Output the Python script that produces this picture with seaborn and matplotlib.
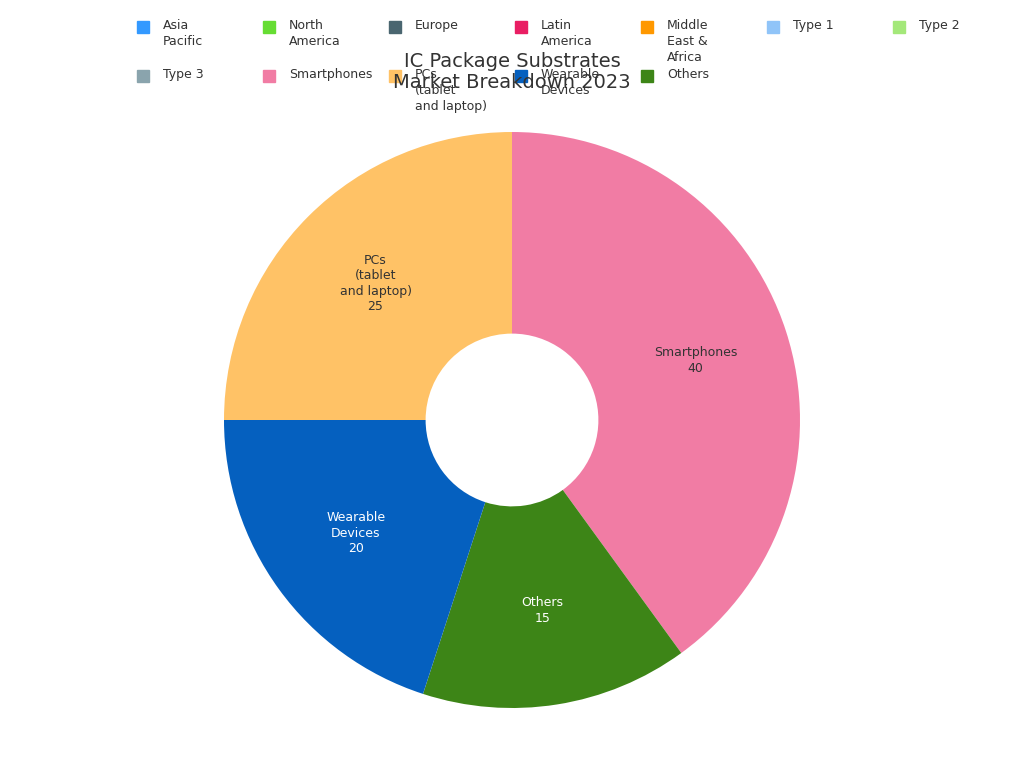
import matplotlib
matplotlib.use("Agg")
import matplotlib.pyplot as plt
from matplotlib.patches import Rectangle
import numpy as np
import seaborn as sns

sns.set_style("white")

# pie data
segments = ["Smartphones", "Others", "Wearable\nDevices", "PCs\n(tablet\nand laptop)"]
values = [40, 15, 20, 25]
seg_colors = ["#f17ca4", "#3d8517", "#0560bf", "#ffc266"]
text_colors = ["#333333", "white", "white", "#333333"]

# legend entries (row-major, 7 per row)
legend_labels = ["Asia\nPacific", "North\nAmerica", "Europe", "Latin\nAmerica",
                 "Middle\nEast &\nAfrica", "Type 1", "Type 2",
                 "Type 3", "Smartphones", "PCs\n(tablet\nand laptop)", "Wearable\nDevices", "Others"]
legend_colors = ["#3399ff", "#66dd33", "#4a6670", "#e91e63", "#ff9800", "#90c4f8", "#a4e87a",
                 "#8aa4ad", "#f17ca4", "#ffc266", "#0560bf", "#3d8517"]

W, H = 1024, 768
fig = plt.figure(figsize=(W / 100, H / 100), dpi=100)
R = 288
cx, cy = 512, 420
ax = fig.add_axes([(cx - R) / W, (H - cy - R) / H, 2 * R / W, 2 * R / H])

wedges, texts = ax.pie(values, colors=seg_colors, startangle=90, counterclock=False,
                       radius=1, wedgeprops=dict(width=0.7, linewidth=0))
ax.set_aspect("equal")
ax.set_xlim(-1, 1)
ax.set_ylim(-1, 1)
ax.axis("off")

total = sum(values)
start = 90
for lab, v, tc in zip(segments, values, text_colors):
    mid = np.deg2rad(start - v / total * 360 / 2)
    start -= v / total * 360
    ax.text(0.67 * np.cos(mid), 0.67 * np.sin(mid), f"{lab}\n{v}", ha="center", va="center",
            fontsize=9, color=tc, linespacing=1.25)

# legend drawn manually
for i, (lab, col) in enumerate(zip(legend_labels, legend_colors)):
    r, c = divmod(i, 7)
    x = 137 + c * 126
    y = 26 + r * 49
    fig.patches.append(Rectangle((x / W, 1 - (y + 7) / H), 12 / W, 12 / H,
                                 transform=fig.transFigure, color=col))
    fig.text((x + 26) / W, 1 - (y - 7) / H, lab, ha="left", va="top", fontsize=9,
             color="#333333", linespacing=1.3)

fig.text(0.5, 1 - 72 / H, "IC Package Substrates\nMarket Breakdown 2023", ha="center",
         va="center", fontsize=14, color="#333333", linespacing=1.1)

fig.savefig("out.png", dpi=100, facecolor="white")
